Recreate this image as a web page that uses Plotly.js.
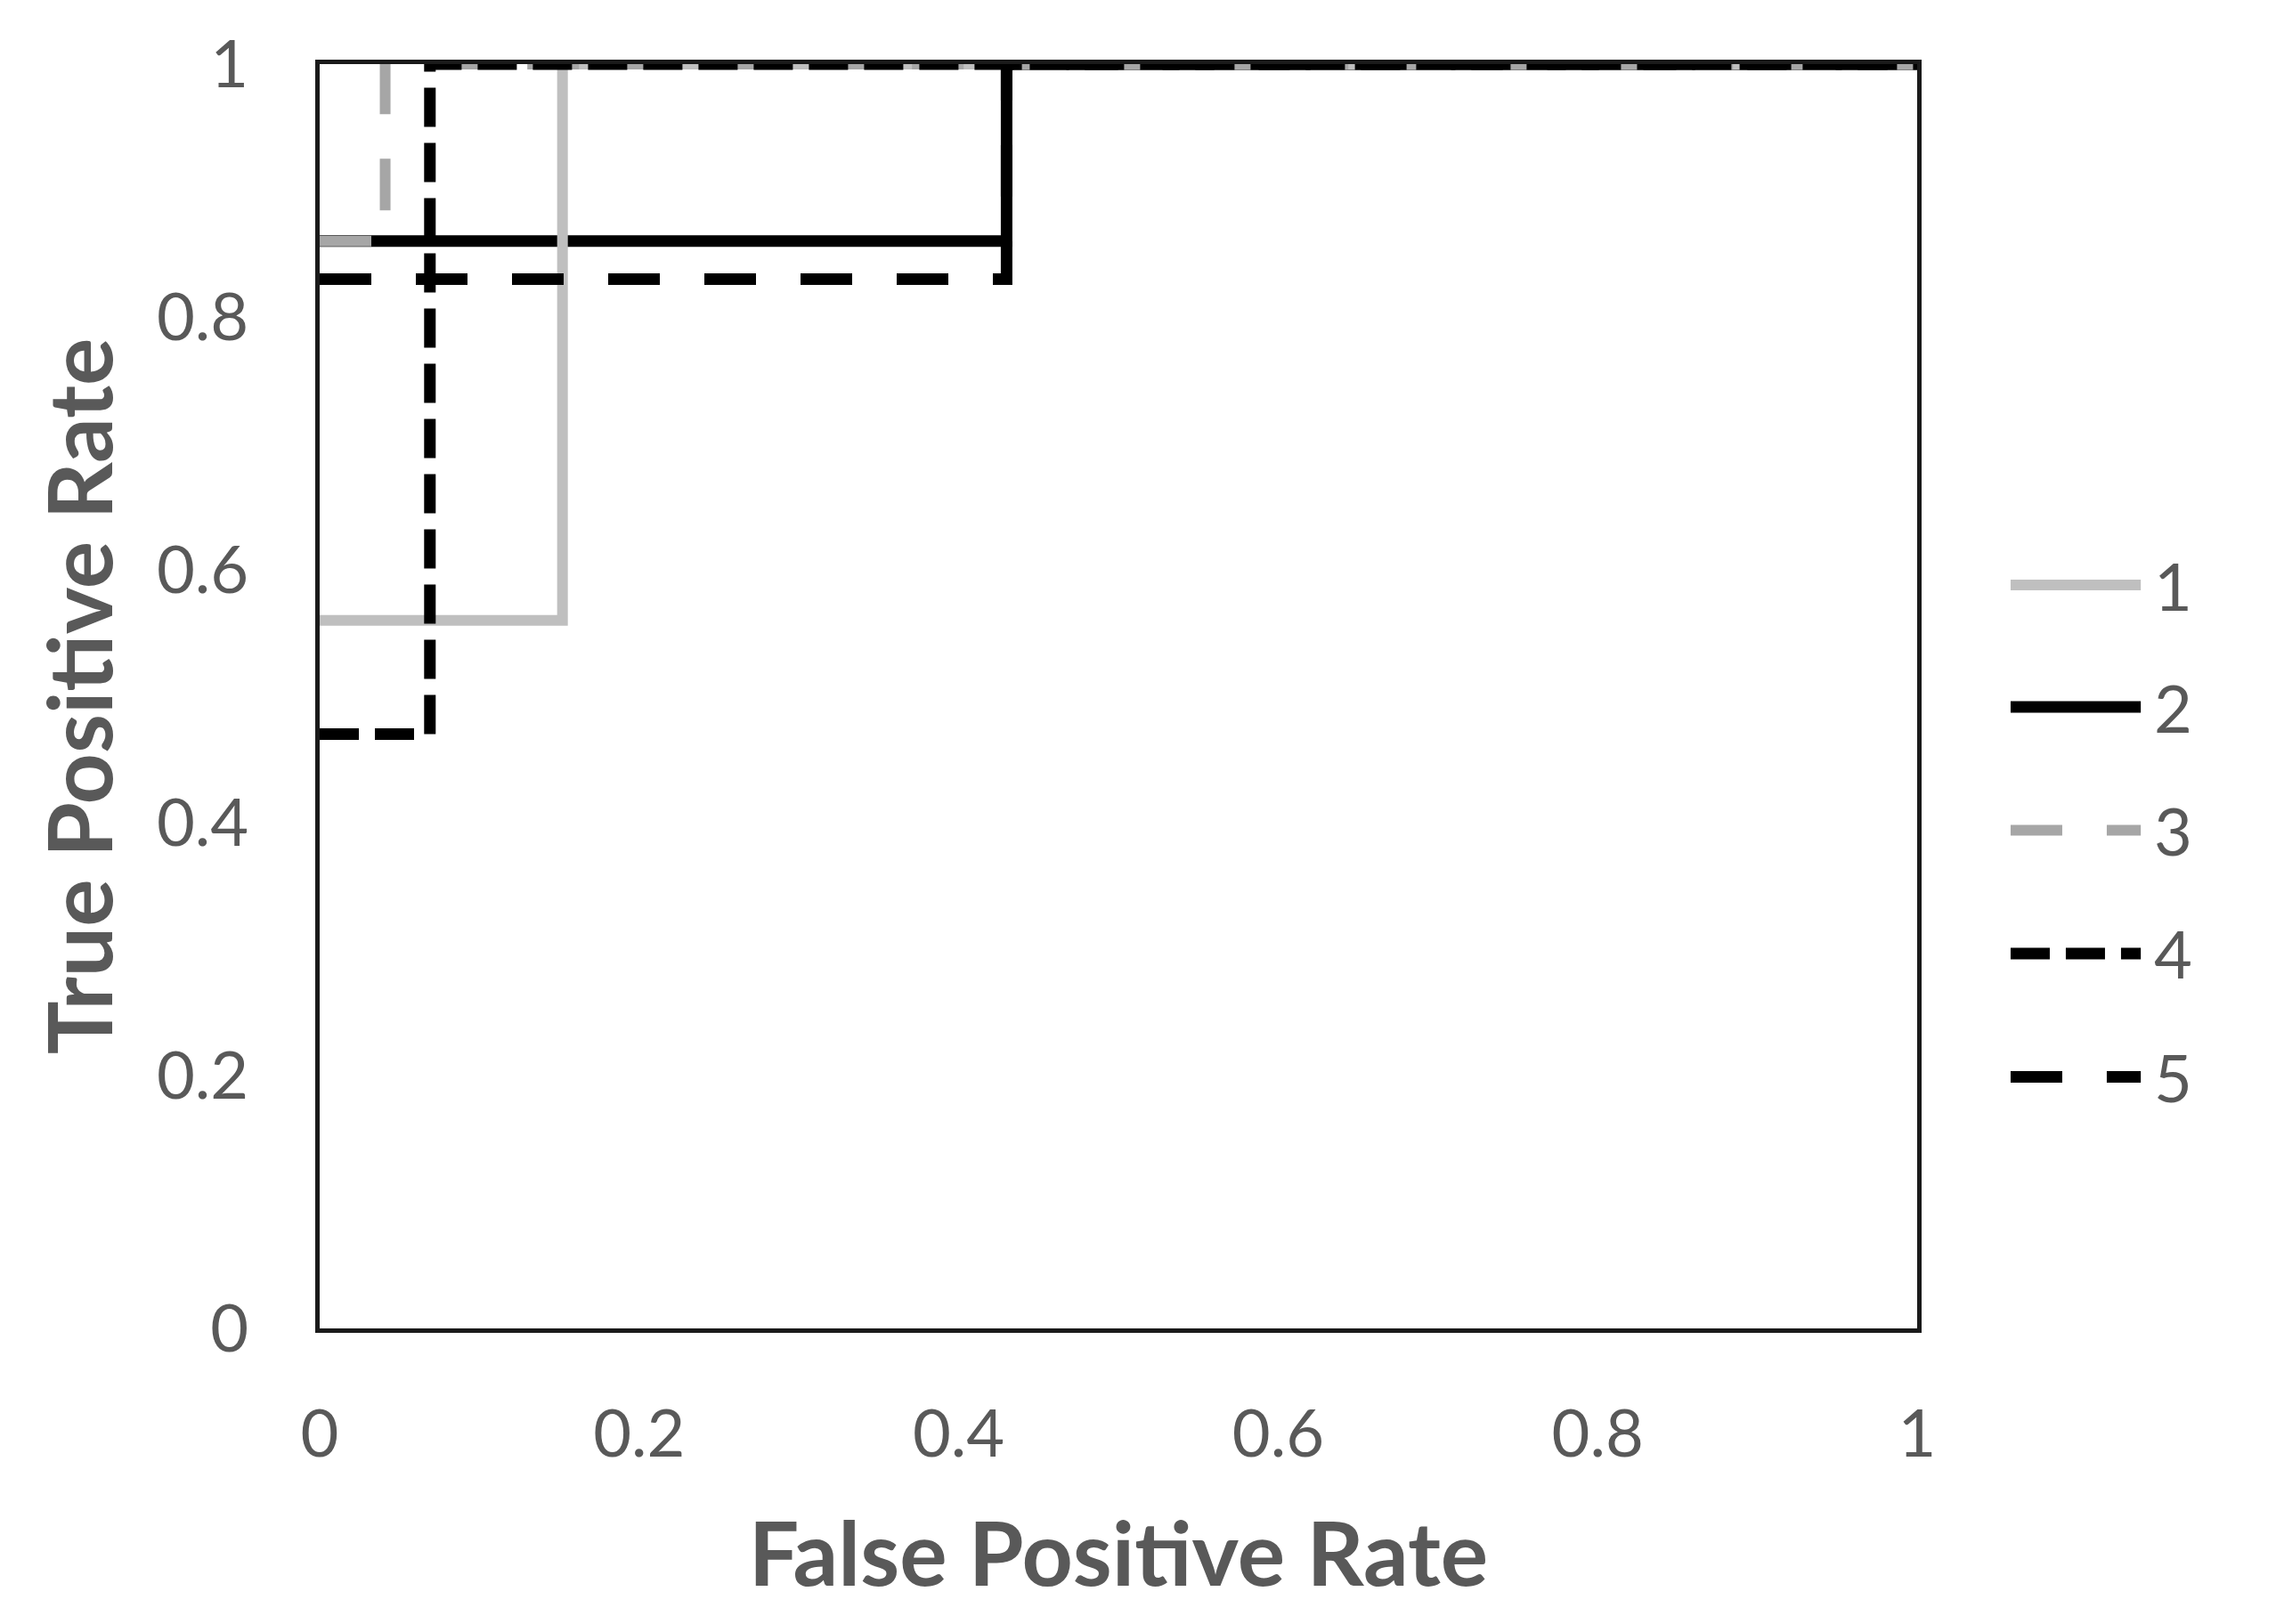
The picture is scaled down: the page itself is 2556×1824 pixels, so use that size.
<!DOCTYPE html>
<html>
<head>
<meta charset="utf-8">
<script src="https://cdn.plot.ly/plotly-3.0.1.min.js"></script>
<style>
  html, body { margin: 0; padding: 0; background: #ffffff; }
  #chart { width: 2556px; height: 1824px; }
</style>
</head>
<body>
<div id="chart"></div>
<script>
// ROC curves (step form) for five models
const seriesNames = ['1', '2', '3', '4', '5'];

const fpr1 = [0, 0.152, 0.152, 1];
const tpr1 = [0.56, 0.56, 1, 1];

const fpr2 = [0, 0.43, 0.43, 1];
const tpr2 = [0.86, 0.86, 1, 1];

const fpr3 = [0, 0.041, 0.041, 1];
const tpr3 = [0.86, 0.86, 1, 1];

const fpr4 = [0, 0.069, 0.069, 1];
const tpr4 = [0.47, 0.47, 1, 1];

const fpr5 = [0, 0.43, 0.43, 1];
const tpr5 = [0.83, 0.83, 1, 1];

const axisTicks = [0, 0.2, 0.4, 0.6, 0.8, 1];
const axisTickText = ['0', '0.2', '0.4', '0.6', '0.8', '1'];

const styles = {
  '1': { color: '#bfbfbf', width: 12, dash: 'solid' },
  '2': { color: '#000000', width: 13, dash: 'solid' },
  '3': { color: '#a6a6a6', width: 12, dash: '58px,50px' },
  '4': { color: '#000000', width: 13, dash: '44px,18px' },
  '5': { color: '#000000', width: 13, dash: '58px,50px' }
};

const xs = { '1': fpr1, '2': fpr2, '3': fpr3, '4': fpr4, '5': fpr5 };
const ys = { '1': tpr1, '2': tpr2, '3': tpr3, '4': tpr4, '5': tpr5 };

// drawing order: model 2 at the bottom, then 1, 3, 4, 5
const drawOrder = ['2', '1', '3', '4', '5'];
const traces = drawOrder.map(name => ({
  type: 'scatter',
  mode: 'lines',
  name: name,
  x: xs[name],
  y: ys[name],
  line: { color: styles[name].color, width: styles[name].width, dash: styles[name].dash, shape: 'linear' },
  cliponaxis: false,
  showlegend: false,
  hoverinfo: 'skip'
}));

// hand-built legend on the right side of the plot
const legendY = [0.588, 0.4915, 0.394, 0.2965, 0.199];
const shapes = [];
const annotations = [];
seriesNames.forEach((name, i) => {
  const s = styles[name];
  shapes.push({
    type: 'line', xref: 'paper', yref: 'paper',
    x0: 1.0585, x1: 1.140, y0: legendY[i], y1: legendY[i],
    line: { color: s.color, width: s.width, dash: s.dash }
  });
  annotations.push({
    xref: 'paper', yref: 'paper', x: 1.147, y: legendY[i],
    xanchor: 'left', yanchor: 'middle', showarrow: false,
    text: name, font: { family: 'Lato, sans-serif', size: 74, color: '#595959' }
  });
});

const tickFont = { family: 'Lato, sans-serif', size: 74, color: '#595959' };
const titleFont = { family: 'Lato, sans-serif', size: 100, color: '#595959', weight: 'bold' };

const layout = {
  width: 2556,
  height: 1824,
  paper_bgcolor: '#ffffff',
  plot_bgcolor: '#ffffff',
  margin: { l: 359, r: 403, t: 72, b: 332 },
  showlegend: false,
  xaxis: {
    range: [0, 1],
    tickvals: axisTicks,
    ticktext: axisTickText,
    tickfont: tickFont,
    showgrid: false,
    zeroline: false,
    showline: true,
    mirror: true,
    linecolor: '#1a1a1a',
    linewidth: 5,
    ticks: '',
    ticklabelstandoff: 50,
    layer: 'below traces',
    title: { text: '<b>False Positive Rate</b>', font: titleFont, standoff: 62 }
  },
  yaxis: {
    range: [0, 1],
    tickvals: axisTicks,
    ticktext: axisTickText,
    tickfont: tickFont,
    showgrid: false,
    zeroline: false,
    showline: true,
    mirror: true,
    linecolor: '#1a1a1a',
    linewidth: 5,
    ticks: '',
    ticklabelstandoff: 60,
    layer: 'below traces',
    title: { text: '<b>True Positive Rate</b>', font: titleFont, standoff: 17 }
  },
  shapes: shapes,
  annotations: annotations
};

Plotly.newPlot('chart', traces, layout, { staticPlot: true, displayModeBar: false });
</script>
</body>
</html>
